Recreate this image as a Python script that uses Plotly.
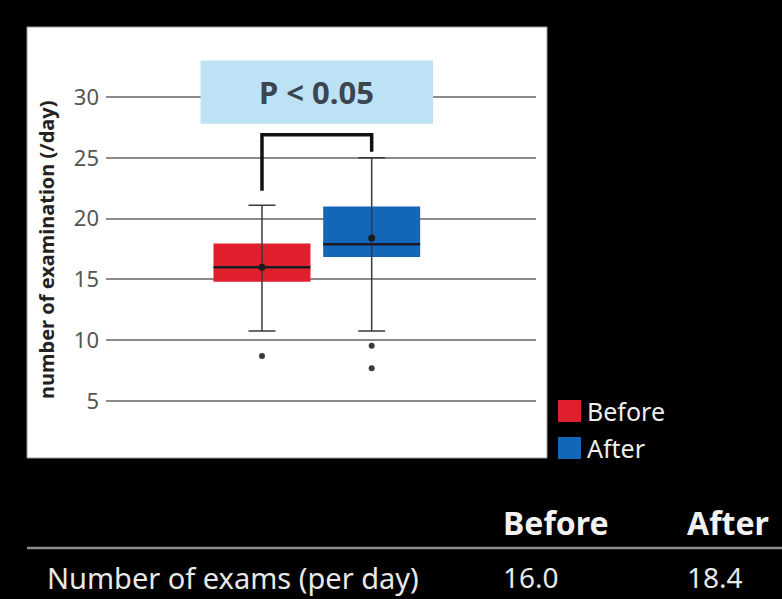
import plotly.graph_objects as go

# ---- data -------------------------------------------------------------
groups = ["Before", "After"]
colors = ["#e01f2d", "#1366b8"]
q1 = [14.8, 16.85]
median = [16.0, 17.9]
q3 = [17.95, 21.0]
lower_whisker = [10.75, 10.75]
upper_whisker = [21.1, 25.0]
means = [16.0, 18.4]
outlier_group = [0, 1, 1]
outlier_values = [8.7, 9.55, 7.7]
y_ticks = [5, 10, 15, 20, 25, 30]
y_title = "number of examination (/day)"
p_label = "P < 0.05"
table_row_label = "Number of exams (per day)"
table_values = [16.0, 18.4]

# ---- geometry helpers -------------------------------------------------
W, H = 782, 599
ML, MR, MT, MB = 106, 246, 27, 141
PW, PH = W - ML - MR, H - MT - MB


def px(x):
    return (x - ML) / PW


def py(y):
    return (H - MB - y) / PH


box_w = 0.884
xs = list(range(len(groups)))

fig = go.Figure()

# IQR boxes
for i, g in enumerate(groups):
    fig.add_trace(go.Box(
        x=[xs[i]], q1=[q1[i]], median=[median[i]], q3=[q3[i]],
        lowerfence=[lower_whisker[i]], upperfence=[upper_whisker[i]],
        fillcolor=colors[i], line=dict(width=0, color=colors[i]),
        width=box_w, boxpoints=False, name=g, showlegend=False,
        hoverinfo="skip",
    ))

# whiskers + mean dots
fig.add_trace(go.Scatter(
    x=xs, y=means, mode="markers",
    marker=dict(color="#1a1a1a", size=7),
    error_y=dict(
        type="data", symmetric=False,
        array=[u - m for u, m in zip(upper_whisker, means)],
        arrayminus=[m - l for m, l in zip(means, lower_whisker)],
        color="#3a3a3a", thickness=1.5, width=13.5,
    ),
    showlegend=False, hoverinfo="skip",
))

# median lines
mx, my = [], []
for i in xs:
    mx += [i - box_w / 2, i + box_w / 2, None]
    my += [median[i], median[i], None]
fig.add_trace(go.Scatter(
    x=mx, y=my, mode="lines", line=dict(color="#1c1c24", width=2.5),
    showlegend=False, hoverinfo="skip",
))

# outliers
fig.add_trace(go.Scatter(
    x=outlier_group, y=outlier_values, mode="markers",
    marker=dict(color="#3a3a3a", size=6),
    showlegend=False, hoverinfo="skip",
))

# white chart panel
fig.add_shape(type="rect", xref="paper", yref="paper",
              x0=px(27), x1=px(547), y0=py(458), y1=py(27),
              fillcolor="white", line=dict(color="#9a9a9a", width=1),
              layer="below")

# y-axis title
fig.add_annotation(x=px(46), y=py(250), xref="paper", yref="paper",
                   text="<b>%s</b>" % y_title, textangle=-90, showarrow=False,
                   xanchor="center", yanchor="middle",
                   font=dict(family="Noto Sans", size=20, color="#222222"))

# significance label box
fig.add_shape(type="rect", xref="x", yref="y",
              x0=-0.56, x1=1.56, y0=27.8, y1=33.0,
              fillcolor="#bde2f6", line=dict(width=0), layer="above")
fig.add_annotation(x=0.5, y=30.4, xref="x", yref="y", text="<b>%s</b>" % p_label,
                   showarrow=False,
                   font=dict(family="Noto Sans", size=31, color="#3b4650"))

# significance bracket
bracket_left, bracket_top, bracket_right = 22.3, 26.9, 25.5
fig.add_shape(type="path", xref="x", yref="y",
              path="M %g,%g L %g,%g L %g,%g L %g,%g" % (
                  xs[0], bracket_left, xs[0], bracket_top,
                  xs[1], bracket_top, xs[1], bracket_right),
              line=dict(color="#111111", width=3.5))

# legend
for i, g in enumerate(groups):
    top = 400 + i * 37
    fig.add_shape(type="rect", xref="paper", yref="paper",
                  x0=px(558), x1=px(581), y0=py(top + 22), y1=py(top),
                  fillcolor=colors[i], line=dict(width=0))
    fig.add_annotation(x=px(585), y=py(top + 11), xref="paper", yref="paper",
                       xanchor="left", yanchor="middle", text=g, showarrow=False,
                       font=dict(family="Noto Sans", size=25, color="#eeeeee"))

# summary table
col_x = [501, 685]
for i, g in enumerate(groups):
    fig.add_annotation(x=px(col_x[i]), y=py(522), xref="paper", yref="paper",
                       xanchor="left", yanchor="middle", text="<b>%s</b>" % g,
                       showarrow=False,
                       font=dict(family="Noto Sans", size=32, color="#f2f2f2"))
    fig.add_annotation(x=px(col_x[i]), y=py(577), xref="paper", yref="paper",
                       xanchor="left", yanchor="middle", text="%.1f" % table_values[i],
                       showarrow=False,
                       font=dict(family="Noto Sans", size=28, color="#e8e8e8"))
fig.add_annotation(x=px(45), y=py(577), xref="paper", yref="paper",
                   xanchor="left", yanchor="middle", text=table_row_label,
                   showarrow=False,
                   font=dict(family="Noto Sans", size=29, color="#e8e8e8"))
fig.add_shape(type="line", xref="paper", yref="paper",
              x0=px(27), x1=px(782), y0=py(548), y1=py(548),
              line=dict(color="#8c8c8c", width=2.5))

fig.update_xaxes(range=[-1.422, 2.498], showgrid=False, zeroline=False,
                 showticklabels=False, showline=False)
fig.update_yaxes(range=[0.31, 35.76], tickvals=y_ticks,
                 ticktext=[str(v) for v in y_ticks],
                 showgrid=True, gridcolor="#8a8a8a", gridwidth=1.5,
                 zeroline=False, showline=False, ticks="",
                 ticklabelstandoff=6,
                 tickfont=dict(family="Noto Sans", size=22, color="#555555"))

fig.update_layout(
    width=W, height=H, autosize=False,
    margin=dict(l=ML, r=MR, t=MT, b=MB, pad=0),
    paper_bgcolor="black", plot_bgcolor="rgba(0,0,0,0)",
    showlegend=False,
)

fig.write_html("out.html")
